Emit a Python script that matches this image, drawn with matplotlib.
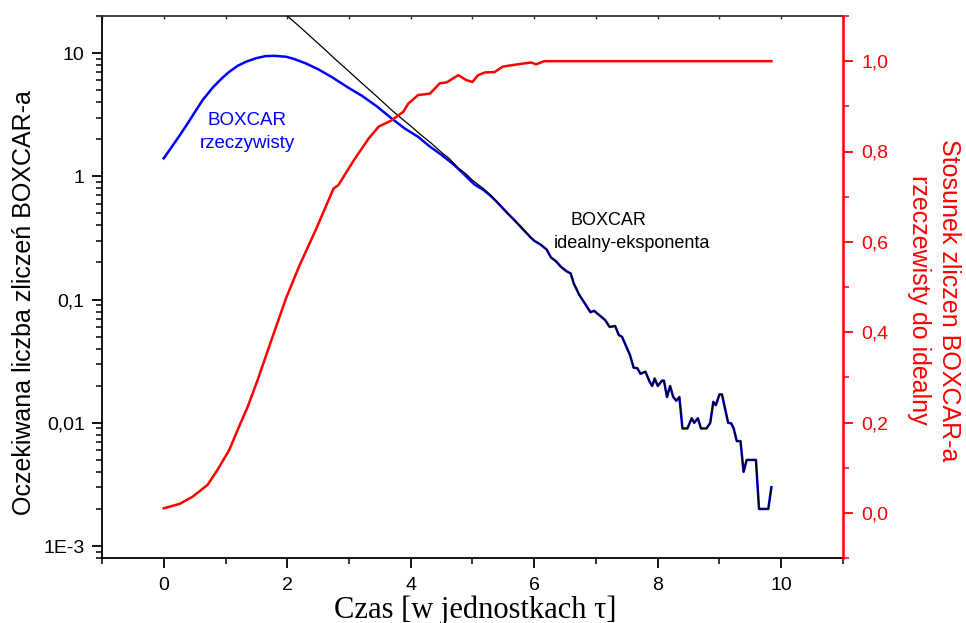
import matplotlib
matplotlib.use("Agg")
import matplotlib.pyplot as plt
from matplotlib.ticker import FixedLocator, FixedFormatter, NullFormatter

plt.rcParams['font.family'] = ['Liberation Sans', 'DejaVu Sans']

# ---- data ----
t_real = [0.0, 0.1, 0.2, 0.28, 0.4, 0.5, 0.63, 0.8, 0.95, 1.06, 1.2, 1.33, 1.5, 1.65,
          1.8, 1.98, 2.1, 2.3, 2.5, 2.73, 3.0, 3.21, 3.45, 3.69, 3.9, 4.12, 4.3, 4.5,
          4.7, 4.87, 5.03, 5.17, 5.3, 5.4, 5.57]
real = [1.40, 1.65, 1.95, 2.23, 2.75, 3.3, 4.16, 5.3, 6.3, 7.05, 7.9, 8.5, 9.1, 9.46,
        9.5, 9.34, 9.0, 8.25, 7.4, 6.35, 5.2, 4.5, 3.7, 2.95, 2.45, 2.09, 1.76, 1.49,
        1.24, 1.03, 0.86, 0.78, 0.69, 0.615, 0.50]

t_ideal = [1.95, 2.0, 2.2, 2.4, 2.6, 2.79, 3.0, 3.2, 3.45, 3.69, 3.85, 4.0, 4.15, 4.33,
           4.5, 4.62, 4.77, 4.9, 5.0, 5.17, 5.3, 5.4, 5.57]
ideal = [21.0, 20.0, 16.4, 13.3, 10.8, 8.8, 7.1, 5.75, 4.45, 3.45, 2.95, 2.56, 2.2, 1.86,
         1.56, 1.40, 1.17, 1.04, 0.93, 0.80, 0.70, 0.62, 0.50]

# common tail where both curves coincide
t_tail = [5.7, 5.8, 5.94, 6.0, 6.1, 6.2, 6.27, 6.35, 6.43, 6.52, 6.59, 6.64, 6.73, 6.85,
          6.91, 6.97, 7.05, 7.15, 7.22, 7.31, 7.37, 7.42, 7.55, 7.61, 7.67, 7.72, 7.80,
          7.87, 7.91, 7.95, 8.00, 8.07, 8.10, 8.15, 8.20, 8.25, 8.30, 8.35, 8.40, 8.48,
          8.55, 8.59, 8.65, 8.70, 8.79, 8.85, 8.90, 8.94, 9.00, 9.04, 9.14, 9.19, 9.23,
          9.28, 9.34, 9.39, 9.44, 9.59, 9.64, 9.79, 9.84]
tail = [0.43, 0.38, 0.32, 0.30, 0.28, 0.255, 0.22, 0.205, 0.185, 0.17, 0.163, 0.135,
        0.109, 0.088, 0.079, 0.081, 0.075, 0.068, 0.060, 0.061, 0.0515, 0.050, 0.0355,
        0.028, 0.0277, 0.025, 0.026, 0.0215, 0.0199, 0.0229, 0.0199, 0.022, 0.022,
        0.0162, 0.0199, 0.0162, 0.0151, 0.0162, 0.0090, 0.0090, 0.0109, 0.0100, 0.0109,
        0.0090, 0.0090, 0.0100, 0.0148, 0.0139, 0.0170, 0.0170, 0.0100, 0.0099, 0.0090,
        0.0071, 0.0071, 0.0040, 0.0050, 0.0050, 0.0020, 0.0020, 0.0030]

t_ratio = [0.0, 0.26, 0.47, 0.71, 0.87, 1.06, 1.22, 1.36, 1.52, 1.75, 1.98, 2.19, 2.46,
           2.75, 2.83, 3.08, 3.32, 3.48, 3.69, 3.88, 3.96, 4.12, 4.31, 4.47, 4.58, 4.77,
           4.90, 5.0, 5.09, 5.20, 5.36, 5.49, 5.73, 5.95, 6.03, 6.16, 9.84]
ratio = [0.010, 0.020, 0.036, 0.062, 0.095, 0.139, 0.191, 0.235, 0.294, 0.385, 0.475,
         0.545, 0.626, 0.718, 0.726, 0.781, 0.829, 0.855, 0.869, 0.888, 0.906, 0.925,
         0.928, 0.951, 0.953, 0.969, 0.958, 0.954, 0.969, 0.975, 0.976, 0.988, 0.993,
         0.997, 0.993, 1.0, 1.0]

left_ticks = [0.001, 0.01, 0.1, 1, 10]
left_labels = ["1E-3", "0,01", "0,1", "1", "10"]
right_ticks = [0.0, 0.2, 0.4, 0.6, 0.8, 1.0]
right_labels = ["0,0", "0,2", "0,4", "0,6", "0,8", "1,0"]
x_ticks = [0, 2, 4, 6, 8, 10]
x_labels = ["0", "2", "4", "6", "8", "10"]

# ---- figure ----
fig = plt.figure(figsize=(9.66, 6.23), dpi=100)
ax = fig.add_axes([102/966, 1-558/623, (843-102)/966, (558-16)/623])

ax.plot(t_real + t_tail, real + tail, color='#0000FF', lw=1.8, zorder=2)
ax.plot(t_ideal + t_tail, ideal + tail, color='black', lw=0.9, zorder=3)

ax.set_yscale('log')
ax.set_xlim(-1, 11)
ax.set_ylim(8e-4, 20)

ax.yaxis.set_major_locator(FixedLocator(left_ticks))
ax.yaxis.set_major_formatter(FixedFormatter(left_labels))
minors = [m * 10.0**e for e in range(-4, 2) for m in range(2, 10)]
ax.yaxis.set_minor_locator(FixedLocator(minors))
ax.yaxis.set_minor_formatter(NullFormatter())

ax.xaxis.set_major_locator(FixedLocator(x_ticks))
ax.xaxis.set_major_formatter(FixedFormatter(x_labels))
ax.xaxis.set_minor_locator(FixedLocator([-1, 1, 3, 5, 7, 9, 11]))

ax.tick_params(axis='both', which='major', direction='out', length=7.5, width=1.3,
               labelsize=14, top=False, right=False)
ax.tick_params(axis='both', which='minor', direction='out', length=4, width=1.1,
               top=False, right=False)
ax.tick_params(axis='x', which='major', pad=6.5)
ax.tick_params(axis='y', which='major', pad=5)

for s in ['left', 'bottom']:
    ax.spines[s].set_linewidth(1.3)
    ax.spines[s].set_color('black')
ax.spines['top'].set_linewidth(1.3)
ax.spines['top'].set_color('#333333')
ax.spines['right'].set_visible(False)

# top axis: small inward ticks at each integer
top = ax.secondary_xaxis('top')
top.set_xticks(list(range(-1, 12)))
top.tick_params(direction='in', length=2.5, width=1.0, labeltop=False, colors='#333333')
top.spines['top'].set_visible(False)

ax.text(1.35, 2.86, "BOXCAR", color='#0000FF', fontsize=13.5, ha='center', va='center')
ax.text(1.35, 1.86, "rzeczywisty", color='#0000FF', fontsize=13.5, ha='center', va='center')
ax.text(7.2, 0.441, "BOXCAR", color='black', fontsize=13, ha='center', va='center')
ax.text(7.58, 0.287, "idealny-eksponenta", color='black', fontsize=13, ha='center', va='center')

# ---- right axis ----
ax2 = ax.twinx()
ax2.plot(t_ratio, ratio, color='#FF0000', lw=1.8)
ax2.set_ylim(-0.1, 1.1)
ax2.yaxis.set_major_locator(FixedLocator(right_ticks))
ax2.yaxis.set_major_formatter(FixedFormatter(right_labels))
ax2.yaxis.set_minor_locator(FixedLocator([-0.1, 0.1, 0.3, 0.5, 0.7, 0.9, 1.1]))
ax2.tick_params(axis='y', which='major', direction='out', length=7.5, width=1.3,
                colors='#FF0000', labelsize=14, pad=6)
ax2.tick_params(axis='y', which='minor', direction='out', length=4.5, width=1.1,
                colors='#FF0000')
for s in ['left', 'top', 'bottom']:
    ax2.spines[s].set_visible(False)
ax2.spines['right'].set_color('#FF0000')
ax2.spines['right'].set_linewidth(1.8)

# ---- axis titles ----
fig.text(24/966, 1-303/623, "Oczekiwana liczba zliczeń BOXCAR-a", rotation=90,
         fontsize=18, ha='center', va='center')
fig.text(934/966, 1-300/623, "Stosunek zliczen BOXCAR-a\nrzeczewisty do idealny",
         rotation=-90, fontsize=18, color='#FF0000', ha='center', va='center',
         multialignment='center', linespacing=1.35)
fig.text(475/966, 1-610/623, "Czas [w jednostkach τ]",
         family=['Liberation Serif', 'DejaVu Serif'], fontsize=22, ha='center', va='center')

fig.savefig("out.png", dpi=100)
